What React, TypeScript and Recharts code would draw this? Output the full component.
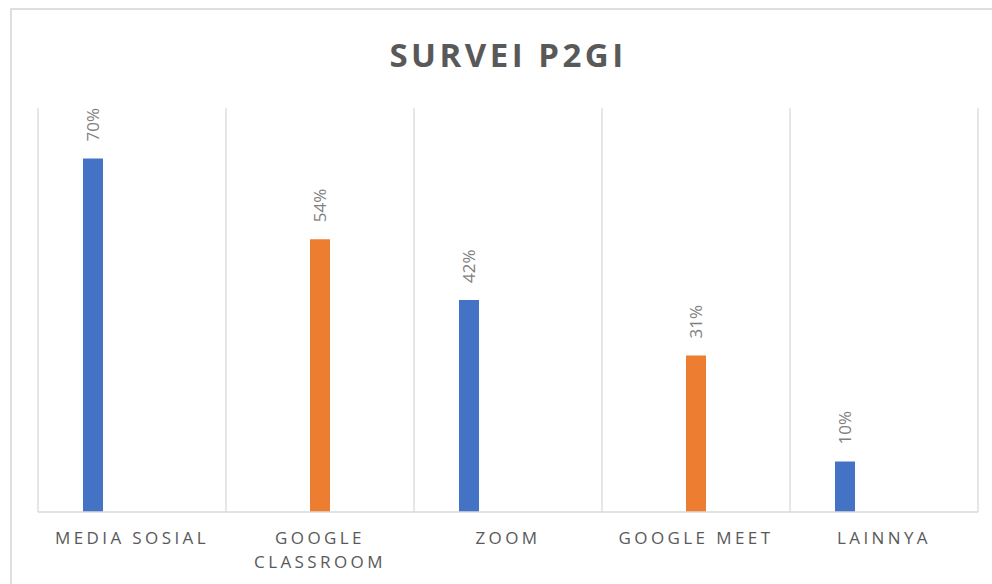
import React from 'react';
import { BarChart, Bar, XAxis, YAxis, CartesianGrid, LabelList } from 'recharts';

const title = 'SURVEI P2GI';
const categories = ['MEDIA SOSIAL', 'GOOGLE CLASSROOM', 'ZOOM', 'GOOGLE MEET', 'LAINNYA'];
const series1 = [70, null, 42, null, 10];
const series2 = [null, 54, null, 31, null];
const series3 = [null, null, null, null, null];
const yDomain = [0, 80];

const data = categories.map((c, i) => ({
  name: c,
  s1: series1[i],
  s2: series2[i],
  s3: series3[i],
}));

const FONT = '"Open Sans", "DejaVu Sans", sans-serif';

const RotatedLabel = (props: any) => {
  const { x, y, width, value } = props;
  if (value === null || value === undefined) return null;
  const cx = Number(x) + Number(width) / 2 + 6;
  const ty = Number(y) - 17;
  return (
    <text
      transform={`translate(${cx},${ty}) rotate(-90)`}
      x={0}
      y={0}
      textAnchor="start"
      fontSize={17}
      fill="#7f7f7f"
      fontFamily={FONT}
    >
      {`${value}%`}
    </text>
  );
};

const CategoryTick = (props: any) => {
  const { x, y, payload } = props;
  const label: string = String(payload.value);
  const lines = label.length > 14 ? label.split(' ') : [label];
  return (
    <g transform={`translate(${x},${y})`}>
      {lines.map((l, i) => (
        <text
          key={i}
          x={0}
          y={32 + i * 24}
          textAnchor="middle"
          fontSize={17}
          letterSpacing={3.4}
          fill="#595959"
          fontFamily={FONT}
        >
          {l}
        </text>
      ))}
    </g>
  );
};

export default function App() {
  return (
    <div
      style={{
        position: 'fixed',
        left: 0,
        top: 0,
        width: 992,
        height: 584,
        overflow: 'hidden',
        background: '#ffffff',
      }}
    >
      <div
        style={{
          position: 'absolute',
          left: 10,
          top: 8,
          width: 1000,
          height: 600,
          border: '2px solid #dedede',
          boxSizing: 'border-box',
        }}
      />
      <svg
        width={992}
        height={100}
        style={{ position: 'absolute', left: 0, top: 0 }}
      >
        <text
          x={508}
          y={67}
          textAnchor="middle"
          fontSize={33}
          fontWeight="bold"
          letterSpacing={3.5}
          fill="#595959"
          fontFamily={FONT}
        >
          {title}
        </text>
      </svg>
      <div style={{ position: 'absolute', left: 0, top: 0 }}>
        <BarChart
          width={992}
          height={584}
          data={data}
          margin={{ top: 108, right: 14, left: 38, bottom: 0 }}
          barSize={20}
          barGap={19}
        >
          <CartesianGrid
            horizontal={false}
            vertical
            stroke="#d9d9d9"
            strokeWidth={1.3}
            verticalCoordinatesGenerator={({ offset }: any) => {
              const pts = categories.map(
                (_, i) => offset.left + (i * offset.width) / categories.length
              );
              pts.push(offset.left + offset.width);
              return pts;
            }}
          />
          <XAxis
            dataKey="name"
            height={72}
            axisLine={{ stroke: '#d9d9d9', strokeWidth: 1.5 }}
            tickLine={false}
            tickSize={0}
            tickMargin={0}
            interval={0}
            tick={<CategoryTick />}
          />
          <YAxis hide domain={yDomain} type="number" />
          <Bar dataKey="s1" fill="#4472c4" isAnimationActive={false}>
            <LabelList dataKey="s1" content={<RotatedLabel />} />
          </Bar>
          <Bar dataKey="s2" fill="#ed7d31" isAnimationActive={false}>
            <LabelList dataKey="s2" content={<RotatedLabel />} />
          </Bar>
          <Bar dataKey="s3" fill="#a5a5a5" isAnimationActive={false}>
            <LabelList dataKey="s3" content={<RotatedLabel />} />
          </Bar>
        </BarChart>
      </div>
    </div>
  );
}
